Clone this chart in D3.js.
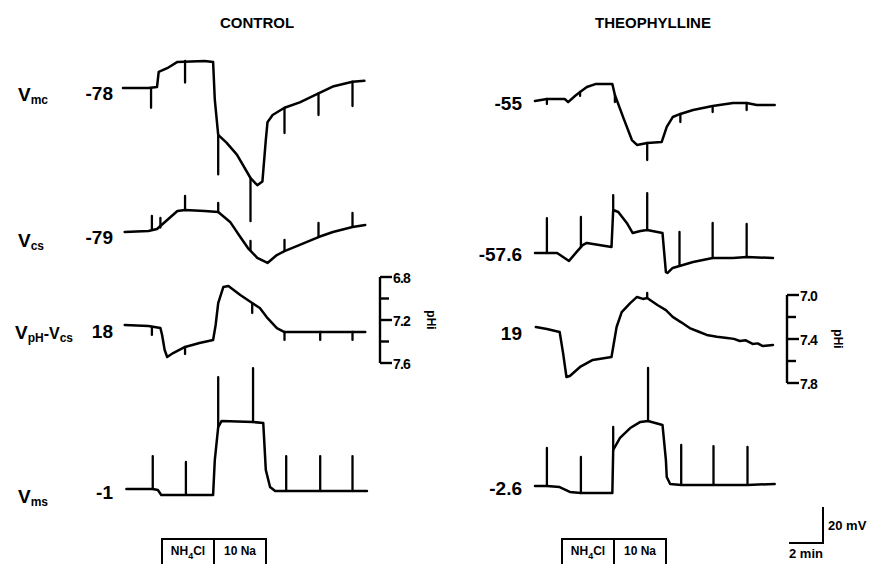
<!DOCTYPE html>
<html>
<head>
<meta charset="utf-8">
<script src="https://cdn.jsdelivr.net/npm/d3@7"></script>
<style>
  body { margin: 0; background: #fff; }
  text { font-family: "Liberation Sans", Arial, sans-serif; font-weight: bold; fill: #000; }
</style>
</head>
<body>
<script>
// time in min, potential in mV
const controlMc = [[0,-78],[1.5,-78],[2.0,-77.5],[2.1,-69],[2.6,-67],[3.2,-63.5],[4.8,-63],[5.3,-63.5],[5.4,-84.5],[5.6,-104],[6.1,-108.5],[6.7,-115],[7.5,-128],[7.9,-132],[8.2,-130],[8.4,-107],[8.5,-97],[8.8,-93],[9.5,-89],[10.4,-86],[11.5,-81],[12.4,-77],[13.5,-74.5],[14.2,-74]];
const controlMcSpikes = [[1.65,-78,-89],[3.65,-63,-75],[5.6,-104,-126],[7.5,-128,-152],[9.5,-89,-103],[11.5,-81,-93],[13.5,-74.5,-88]];

const controlCs = [[0.1,-79],[1.5,-78.4],[2.0,-77.3],[2.6,-72.3],[3.2,-67.3],[3.65,-66.8],[4.8,-67.3],[5.6,-67.9],[6.3,-73.4],[6.9,-81.8],[7.35,-87.9],[7.9,-93.4],[8.5,-96.2],[9.05,-91.8],[9.5,-89.6],[10.4,-86.2],[11.5,-81.8],[12.35,-79],[13.5,-76.2],[14.25,-75.1]];
const controlCsSpikes = [[1.7,-77.6,-70],[2.2,-76.5,-71.2],[3.65,-66.8,-59],[5.6,-67.9,-62.9],[7.5,-89,-84],[9.5,-89.6,-83.4],[11.5,-81.8,-74],[13.5,-76.2,-68.4]];

const controlPh = [[0.1,18],[1.5,17.4],[2.2,16.3],[2.3,12.4],[2.45,4.1],[2.6,0.2],[2.95,2.4],[3.65,5.8],[4.5,8],[5.3,9.7],[5.45,18],[5.6,30.2],[5.9,39.1],[6.2,39.7],[6.9,34.7],[7.6,30.2],[8.05,27.4],[8.45,22.4],[9.05,16.3],[9.5,14.1],[11.6,14.1],[13.5,14.1],[14.25,14.1]];
const controlPhSpikes = [[1.7,17,12.5],[3.65,5.8,1.9],[7.6,30.2,24.7],[9.5,14.1,9.7],[11.6,14.1,9.7],[13.5,14.1,9.7]];

const controlMs = [[0.2,-1],[1.75,-1],[2.05,-1.6],[2.25,-4.3],[3.7,-4.3],[5.3,-4.3],[5.4,15.1],[5.6,33.4],[5.8,36.8],[7.65,36.2],[8.25,35.7],[8.4,9.6],[8.65,0.1],[8.95,-2.1],[9.6,-2.1],[11.6,-2.1],[13.5,-2.1],[14.35,-2.1]];
const controlMsSpikes = [[1.75,-1,17.3],[3.7,-4.3,14],[5.6,33.4,61.2],[7.65,36.2,66.2],[9.6,-2.1,17.3],[11.6,-2.1,17.3],[13.5,-2.1,17.3]];

const theoMc = [[0,-55],[0.7,-53.9],[1.75,-53.9],[1.95,-55.6],[2.35,-52.2],[2.65,-50],[3.05,-47.2],[3.55,-45.6],[4.55,-45.6],[4.7,-51.7],[5.2,-64.4],[5.7,-76.7],[6.0,-79.4],[6.6,-78.3],[7.45,-77.8],[7.75,-69.4],[8.1,-63.9],[8.55,-62.2],[9.3,-60],[10.45,-57.8],[11.65,-56.1],[12.45,-56.1],[13.05,-57.2],[14.1,-57.2]];
const theoMcSpikes = [[0.7,-53.9,-56.7],[2.65,-50,-52.2],[4.7,-51.7,-55.6],[6.6,-78.3,-87.8],[8.55,-62.2,-66.7],[10.45,-57.8,-61.1],[12.45,-56.1,-60]];

const theoCs = [[0,-57.6],[0.7,-57.6],[1.3,-57.6],[2.0,-62],[2.45,-57],[2.7,-54.3],[2.8,-53.2],[3.05,-52],[4.5,-54.3],[4.6,-33.7],[4.9,-34.8],[5.4,-40.9],[5.75,-46.5],[6.2,-45.4],[6.6,-44.8],[7.5,-46.5],[7.7,-68.2],[7.8,-68.7],[8.1,-65.9],[8.5,-64.8],[9.3,-62.6],[10.45,-60.4],[11.65,-60.4],[12.45,-59.8],[14.0,-60.4]];
const theoCsSpikes = [[0.7,-57.6,-38.2],[2.7,-54.3,-37.6],[4.6,-33.7,-25.4],[6.6,-44.8,-24.3],[8.5,-64.8,-45.9],[10.45,-60.4,-40.9],[12.45,-59.8,-41.5]];

const theoPh = [[0.05,19],[0.7,17.9],[1.45,16.2],[1.65,4.6],[1.85,-8.8],[2.05,-8.2],[2.65,-3.2],[3.4,0.7],[4.5,2.3],[4.8,19],[5.1,27.3],[5.6,32.3],[6.0,35.7],[6.35,34.6],[6.6,35.1],[7.2,31.2],[7.7,28.4],[8.1,24.6],[8.6,21.6],[9.1,18.4],[9.6,16.5],[10.1,14.6],[10.7,13.6],[11.3,12.9],[11.7,12.4],[12.05,11.2],[12.4,11.6],[12.8,9.6],[13.1,9.9],[13.4,8.4],[14.0,9]];
const theoPhSpikes = [[6.6,35.1,37.9]];

const theoMs = [[0,-2.6],[0.7,-2.6],[1.45,-3.2],[2.05,-5.9],[2.7,-6.5],[4.55,-6.5],[4.6,17.4],[5.0,24.1],[5.6,29.6],[6.2,33],[6.65,33.5],[7.5,31.3],[7.7,11.8],[7.75,2.4],[7.95,-1.5],[8.6,-2],[10.5,-2],[12.5,-2],[14.1,-1.5]];
const theoMsSpikes = [[0.7,-2.6,18.5],[2.7,-6.5,13.5],[4.6,17.4,30.2],[6.65,33.5,63],[8.6,-2,20.2],[10.5,-2,19.6],[12.5,-2,19.1]];

const panelTitles = ["CONTROL", "THEOPHYLLINE"];
const baseValues = [[-78, -79, 18, -1], [-55, -57.6, 19, -2.6]];
const baseLabels = [["-78", "-79", "18", "-1"], ["-55", "-57.6", "19", "-2.6"]];
const phTicksLeft = [6.8, 7.0, 7.2, 7.4, 7.6];
const phTicksRight = [7.0, 7.2, 7.4, 7.6, 7.8];
const solutions = ["NH4Cl", "10 Na"];

const W = 878, H = 564;
const pxPerMin = 17, pxPerMv = 1.8;

const svg = d3.select("body").append("svg").attr("width", W).attr("height", H);

const panels = [
  { x0: 123, title: panelTitles[0], titleX: 257, traces: [
      { data: controlMc, spikes: controlMcSpikes, y0: 88, labelDy: 5 },
      { data: controlCs, spikes: controlCsSpikes, y0: 232, labelDy: 5 },
      { data: controlPh, spikes: controlPhSpikes, y0: 325, labelDy: 6 },
      { data: controlMs, spikes: controlMsSpikes, y0: 489, labelDy: 3 }],
    labelRight: 113, box: 162, ph: { x: 380, ticks: phTicksLeft, top: 277, bottom: 363 } },
  { x0: 535, title: panelTitles[1], titleX: 653, traces: [
      { data: theoMc, spikes: theoMcSpikes, y0: 101, labelDy: 2 },
      { data: theoCs, spikes: theoCsSpikes, y0: 253, labelDy: 1 },
      { data: theoPh, spikes: theoPhSpikes, y0: 327, labelDy: 6 },
      { data: theoMs, spikes: theoMsSpikes, y0: 486, labelDy: 2 }],
    labelRight: 522, box: 562, ph: { x: 787, ticks: phTicksRight, top: 295, bottom: 383 } }
];

panels.forEach((p, pi) => {
  const x = d3.scaleLinear().domain([0, 15]).range([p.x0, p.x0 + 15 * pxPerMin]);

  svg.append("text")
     .attr("x", p.titleX).attr("y", 28)
     .attr("text-anchor", "middle")
     .attr("font-size", 15)
     .text(p.title);

  p.traces.forEach((t, ti) => {
    const v0 = baseValues[pi][ti];
    const y = d3.scaleLinear().domain([v0 - 100, v0 + 100]).range([t.y0 + 100 * pxPerMv, t.y0 - 100 * pxPerMv]);

    const line = d3.line().x(d => x(d[0])).y(d => y(d[1]));
    svg.append("path")
       .datum(t.data)
       .attr("d", line)
       .attr("fill", "none")
       .attr("stroke", "#000")
       .attr("stroke-width", 2.5)
       .attr("stroke-linejoin", "round")
       .attr("stroke-linecap", "round");

    svg.selectAll(null)
       .data(t.spikes)
       .enter()
       .append("line")
       .attr("x1", d => x(d[0])).attr("x2", d => x(d[0]))
       .attr("y1", d => y(d[1])).attr("y2", d => y(d[2]))
       .attr("stroke", "#000")
       .attr("stroke-width", 2.3)
       .attr("stroke-linecap", "round");

    svg.append("text")
       .attr("x", p.labelRight)
       .attr("y", y(v0) + t.labelDy)
       .attr("dominant-baseline", "central")
       .attr("text-anchor", "end")
       .attr("font-size", 19)
       .text(baseLabels[pi][ti]);
  });

  // pH calibration bar
  const ph = d3.scaleLinear().domain([p.ph.ticks[0], p.ph.ticks[4]]).range([p.ph.top, p.ph.bottom]);
  const g = svg.append("g");
  g.append("line")
   .attr("x1", p.ph.x).attr("x2", p.ph.x)
   .attr("y1", ph(p.ph.ticks[0])).attr("y2", ph(p.ph.ticks[4]))
   .attr("stroke", "#000").attr("stroke-width", 2.4);
  g.selectAll(null)
   .data(p.ph.ticks)
   .enter()
   .append("line")
   .attr("x1", p.ph.x).attr("x2", (d, i) => p.ph.x + (i % 2 === 0 ? 12 : 9))
   .attr("y1", d => ph(d)).attr("y2", d => ph(d))
   .attr("stroke", "#000").attr("stroke-width", 2.4);
  g.selectAll(null)
   .data(p.ph.ticks.filter((d, i) => i % 2 === 0))
   .enter()
   .append("text")
   .attr("x", p.ph.x + 13)
   .attr("y", d => ph(d) + 1)
   .attr("dominant-baseline", "central")
   .attr("font-size", 14)
   .attr("letter-spacing", -0.8)
   .text(d => d.toFixed(1));
  const mid = ph(p.ph.ticks[2]);
  svg.append("text")
     .attr("transform", `translate(${p.ph.x + 51},${mid}) rotate(90)`)
     .attr("text-anchor", "middle")
     .attr("dominant-baseline", "central")
     .attr("font-size", 12)
     .text("pHi");

  // solution boxes
  const bx = p.box, by = 539, bw = 52, bh = 22;
  solutions.forEach((s, i) => {
    svg.append("rect")
       .attr("x", bx + i * bw).attr("y", by)
       .attr("width", bw).attr("height", bh + 6)
       .attr("fill", "none").attr("stroke", "#000").attr("stroke-width", 2);
    const tx = svg.append("text")
       .attr("x", bx + i * bw + bw / 2).attr("y", by + 16)
       .attr("text-anchor", "middle")
       .attr("font-size", 12);
    if (s === "NH4Cl") {
      tx.append("tspan").text("NH");
      tx.append("tspan").attr("font-size", 9).attr("dy", 4).text("4");
      tx.append("tspan").attr("dy", -4).text("Cl");
    } else {
      tx.text(s);
    }
  });
});

// trace names
const names = [
  { y: 95, main: "V", sub: "mc" },
  { y: 241, main: "V", sub: "cs" },
  { y: 497, main: "V", sub: "ms" }
];
names.forEach(n => {
  const t = svg.append("text").attr("x", 18).attr("y", n.y + 6).attr("font-size", 19);
  t.append("tspan").text(n.main);
  t.append("tspan").attr("font-size", 12).attr("dy", 3).text(n.sub);
});
const phName = svg.append("text").attr("x", 15).attr("y", 339).attr("font-size", 19);
phName.append("tspan").text("V");
phName.append("tspan").attr("font-size", 12).attr("dy", 3).text("pH");
phName.append("tspan").attr("font-size", 16).attr("dy", -3).text("-V");
phName.append("tspan").attr("font-size", 12).attr("dy", 3).text("cs");

// scale bar
const sx = d3.scaleLinear().domain([0, 2]).range([789, 789 + 2 * pxPerMin]);
const sy = d3.scaleLinear().domain([0, 20]).range([543, 543 - 20 * pxPerMv]);
svg.append("path")
   .attr("d", `M${sx(0)},${sy(0)}H${sx(2)}V${sy(20)}`)
   .attr("fill", "none").attr("stroke", "#000").attr("stroke-width", 2);
svg.append("text").attr("x", sx(2) + 5).attr("y", sy(10) + 5).attr("font-size", 13).text("20 mV");
svg.append("text").attr("x", sx(1)).attr("y", 558).attr("text-anchor", "middle").attr("font-size", 13).text("2 min");
</script>
</body>
</html>
